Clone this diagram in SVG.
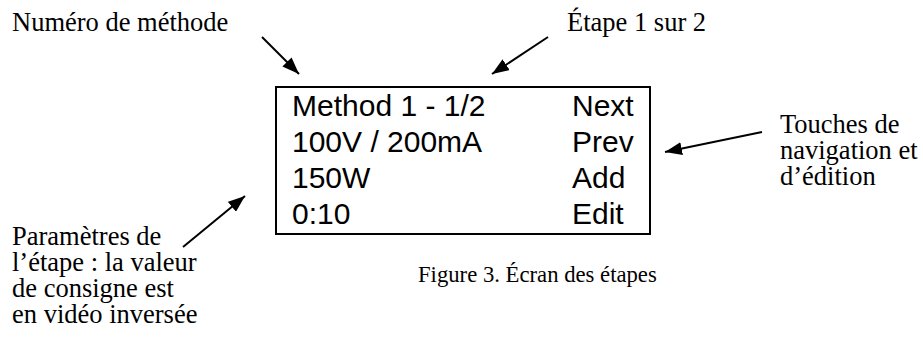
<svg xmlns="http://www.w3.org/2000/svg" width="923" height="339" viewBox="0 0 923 339">
  <defs>
    <marker id="ah" viewBox="0 0 17 13" refX="17" refY="6.5" markerWidth="17" markerHeight="13" markerUnits="userSpaceOnUse" orient="auto">
      <path d="M0,0 L17,6.5 L0,13 z" fill="#000"/>
    </marker>
    <style>
      .lbl { font-family: "Liberation Serif", "Times New Roman", serif; font-size: 26.5px; fill: #000; }
      .cap { font-family: "Liberation Serif", "Times New Roman", serif; font-size: 22.7px; fill: #000; }
      .lcd { font-family: "Liberation Sans", Arial, sans-serif; font-size: 30px; fill: #000; }
      .conn { stroke: #000; stroke-width: 2; fill: none; marker-end: url(#ah); }
    </style>
  </defs>
  <rect width="923" height="339" fill="#fff"/>

  <g id="screen">
    <rect x="276" y="87" width="374" height="147" fill="none" stroke="#000" stroke-width="2"/>
    <text class="lcd" x="292" y="116">Method 1 - 1/2</text>
    <text class="lcd" x="292" y="152">100V / 200mA</text>
    <text class="lcd" x="292" y="188">150W</text>
    <text class="lcd" x="292" y="224">0:10</text>
    <text class="lcd" x="572" y="116">Next</text>
    <text class="lcd" x="572" y="152">Prev</text>
    <text class="lcd" x="572" y="188">Add</text>
    <text class="lcd" x="572" y="224">Edit</text>
  </g>

  <g id="label-methode">
    <text class="lbl" x="12" y="31">Numéro de méthode</text>
  </g>
  <g id="label-etape">
    <text class="lbl" x="567" y="31">Étape 1 sur 2</text>
  </g>
  <g id="label-touches">
    <text class="lbl"><tspan x="780" y="133">Touches de</tspan><tspan x="780" y="159">navigation et</tspan><tspan x="780" y="185">d’édition</tspan></text>
  </g>
  <g id="label-parametres">
    <text class="lbl"><tspan x="12" y="245">Paramètres de</tspan><tspan x="12" y="271">l’étape : la valeur</tspan><tspan x="12" y="297">de consigne est</tspan><tspan x="12" y="323">en vidéo inversée</tspan></text>
  </g>
  <g id="caption">
    <text class="cap" x="418" y="282">Figure 3. Écran des étapes</text>
  </g>

  <g id="connectors">
    <line class="conn" x1="262" y1="37" x2="299" y2="74"/>
    <line class="conn" x1="548" y1="37" x2="492" y2="74"/>
    <line class="conn" x1="762" y1="132" x2="665" y2="152"/>
    <line class="conn" x1="183" y1="247" x2="245" y2="196"/>
  </g>
</svg>
